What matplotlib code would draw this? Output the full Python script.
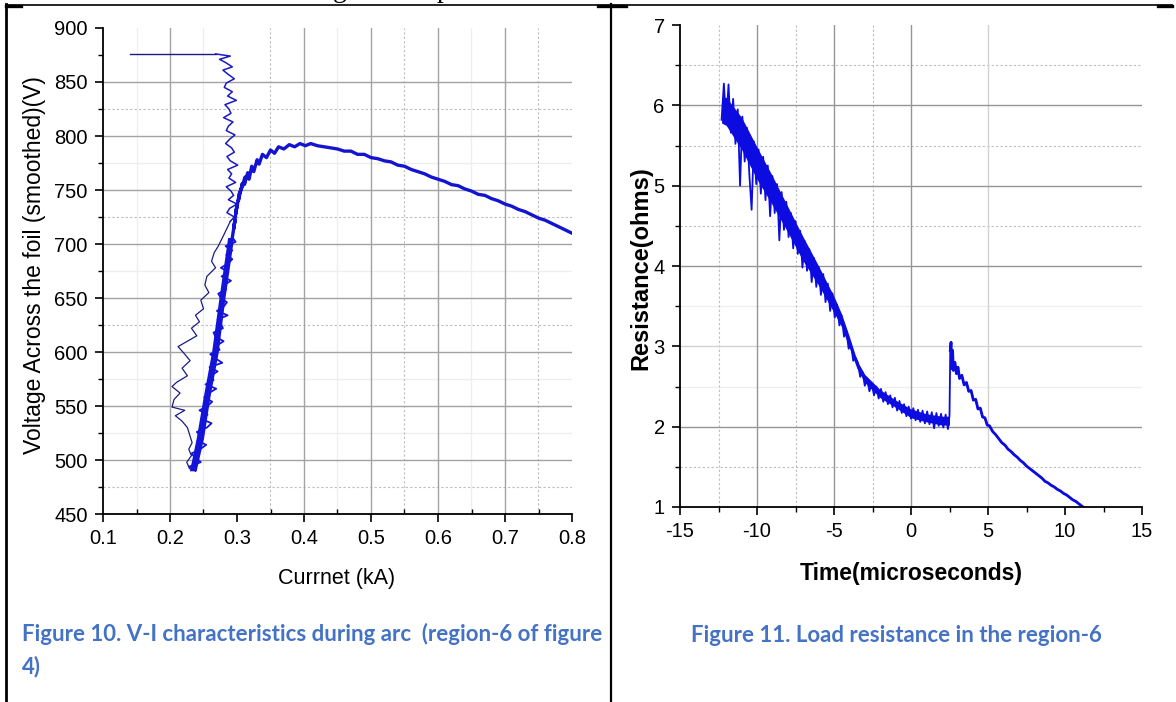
import matplotlib

matplotlib.use("Agg")
import matplotlib.pyplot as plt
from matplotlib.ticker import FormatStrFormatter, MultipleLocator

plt.rcParams["font.family"] = ["Liberation Sans", "DejaVu Sans"]
plt.rcParams["axes.unicode_minus"] = False

CAPTION_FONT = ["Lato", "DejaVu Sans"]
CAPTION_COLOR = "#4472C4"

# ---- Figure 10: V-I characteristics (current kA, voltage V) ----
flat_i = [0.140, 0.268]
flat_v = [876, 876]

down_i = [0.268, 0.290, 0.274, 0.283, 0.293, 0.279, 0.287, 0.296, 0.284, 0.281,
          0.293, 0.286, 0.299, 0.282, 0.288, 0.291, 0.280, 0.294, 0.287, 0.284,
          0.297, 0.289, 0.283, 0.292, 0.296, 0.285, 0.290, 0.301, 0.286, 0.292,
          0.288, 0.298, 0.284, 0.291, 0.295, 0.287, 0.300, 0.289, 0.285, 0.296,
          0.290]
down_v = [876, 874, 871, 868, 864, 861, 857, 853, 849, 845,
          841, 837, 833, 829, 825, 821, 817, 813, 809, 805,
          801, 797, 793, 789, 785, 781, 777, 773, 769, 765,
          761, 757, 753, 749, 745, 741, 737, 733, 729, 725,
          721]

return_i = [0.290, 0.280, 0.272, 0.266, 0.262, 0.268, 0.255, 0.252, 0.258, 0.246,
            0.250, 0.238, 0.244, 0.232, 0.240, 0.226, 0.212, 0.222, 0.230, 0.218,
            0.226, 0.210, 0.203, 0.215, 0.206, 0.203, 0.222, 0.208, 0.218, 0.226,
            0.230, 0.233, 0.228, 0.232, 0.225, 0.229, 0.238]
return_v = [721, 708, 698, 692, 684, 678, 670, 662, 655, 648,
            640, 634, 628, 622, 615, 610, 605, 598, 592, 585,
            578, 572, 568, 562, 556, 549, 546, 541, 536, 530,
            522, 516, 510, 504, 498, 492, 490]

up_i = [0.238, 0.229, 0.246, 0.238, 0.232, 0.245, 0.254, 0.241, 0.247, 0.240,
        0.255, 0.262, 0.247, 0.256, 0.244, 0.256, 0.263, 0.251, 0.258, 0.269,
        0.253, 0.265, 0.261, 0.271, 0.259, 0.278, 0.268, 0.260, 0.274, 0.270,
        0.280, 0.268, 0.265, 0.279, 0.276, 0.271, 0.286, 0.270, 0.280, 0.285,
        0.276, 0.272, 0.284, 0.281, 0.291, 0.277, 0.287, 0.276, 0.287, 0.293,
        0.284, 0.293, 0.283, 0.298, 0.293]
up_v = [490, 494, 498, 502, 506, 510, 514, 518, 522, 526,
        530, 534, 538, 542, 546, 550, 554, 558, 562, 566,
        570, 574, 578, 582, 586, 590, 594, 598, 602, 606,
        610, 614, 618, 622, 626, 630, 634, 638, 642, 646,
        650, 654, 658, 662, 666, 670, 674, 678, 682, 686,
        690, 694, 698, 702, 706]

# dense core of the rising branch
up_band_v = [490, 520, 560, 600, 650, 706]
up_band_lo = [0.229, 0.239, 0.250, 0.262, 0.273, 0.286]
up_band_hi = [0.239, 0.250, 0.260, 0.272, 0.282, 0.295]

arc_i = [0.293, 0.297, 0.295, 0.300, 0.298, 0.304, 0.302, 0.308, 0.306, 0.312,
         0.311, 0.316, 0.318, 0.322, 0.325, 0.330, 0.333, 0.338, 0.344, 0.350,
         0.356, 0.362, 0.370, 0.378, 0.386, 0.394, 0.402, 0.410, 0.420, 0.430,
         0.440, 0.450, 0.460, 0.470, 0.480, 0.490, 0.500, 0.510, 0.520, 0.530,
         0.540, 0.550, 0.560, 0.570, 0.580, 0.590, 0.600, 0.610, 0.620, 0.630,
         0.640, 0.650, 0.660, 0.670, 0.680, 0.690, 0.700, 0.710, 0.720, 0.730,
         0.740, 0.750, 0.760, 0.770, 0.780, 0.790, 0.800]
arc_v = [706, 722, 714, 736, 728, 748, 740, 756, 750, 762,
         755, 766, 760, 772, 767, 778, 774, 783, 780, 787,
         784, 790, 788, 792, 790, 793, 791, 793, 791, 790,
         789, 788, 786, 786, 783, 783, 780, 779, 777, 776,
         773, 772, 769, 767, 765, 762, 760, 758, 755, 754,
         751, 749, 746, 745, 742, 740, 737, 735, 732, 730,
         727, 724, 722, 719, 716, 713, 710]

# ---- Figure 11: load resistance (time us, resistance ohm) ----
time_us = [-12.30, -12.15, -12.00, -11.85, -11.70, -11.55, -11.40, -11.25, -11.10, -10.95,
           -10.80, -10.65, -10.50, -10.35, -10.20, -10.05, -9.90, -9.75, -9.60, -9.45,
           -9.30, -9.15, -9.00, -8.85, -8.70, -8.55, -8.40, -8.25, -8.10, -7.95,
           -7.80, -7.65, -7.50, -7.35, -7.20, -7.05, -6.90, -6.75, -6.60, -6.45,
           -6.30, -6.15, -6.00, -5.85, -5.70, -5.55, -5.40, -5.25, -5.10, -4.95,
           -4.80, -4.65, -4.50, -4.35, -4.20, -4.05, -3.90, -3.75, -3.60,
           -3.45, -3.30, -3.15, -3.00, -2.85, -2.70, -2.55, -2.40, -2.25, -2.10,
           -1.95, -1.80, -1.65, -1.50, -1.35, -1.20, -1.05, -0.90, -0.75, -0.60,
           -0.45, -0.30, -0.15, 0.00, 0.15, 0.30, 0.45, 0.60, 0.75, 0.90,
           1.05, 1.20, 1.35, 1.50, 1.65, 1.80, 1.95, 2.10, 2.25, 2.40, 2.50,
           2.55, 2.60, 2.65, 2.70, 2.75, 2.85, 2.95, 3.05, 3.15, 3.30,
           3.45, 3.60, 3.75, 3.90, 4.05, 4.20, 4.35, 4.50, 4.65, 4.80,
           4.95, 5.10, 5.30, 5.50, 5.70, 5.90, 6.10, 6.30, 6.50, 6.70,
           6.90, 7.10, 7.30, 7.50, 7.70, 7.90, 8.10, 8.30, 8.50, 8.70,
           8.90, 9.10, 9.30, 9.50, 9.70, 9.90, 10.10, 10.30, 10.50, 10.70,
           10.90, 11.10, 11.25]
resistance = [5.82, 6.27, 5.78, 6.26, 5.66, 6.08, 5.52, 5.95, 5.00, 5.86,
              5.30, 5.72, 5.15, 4.70, 5.55, 5.02, 5.45, 4.90, 5.36, 4.82,
              5.25, 4.62, 5.12, 4.66, 5.02, 4.32, 4.92, 4.45, 4.80, 4.36,
              4.66, 4.22, 4.56, 4.15, 4.44, 3.98, 4.31, 3.94, 4.21, 3.80,
              4.10, 3.74, 3.99, 3.64, 3.90, 3.55, 3.78, 3.44, 3.66, 3.36,
              3.52, 3.26, 3.38, 3.12, 3.20, 2.97, 3.03, 2.82, 2.86,
              2.80, 2.62, 2.68, 2.51, 2.60, 2.44, 2.53, 2.39, 2.50, 2.35,
              2.47, 2.31, 2.43, 2.28, 2.39, 2.24, 2.36, 2.20, 2.32, 2.17,
              2.28, 2.13, 2.25, 2.10, 2.23, 2.08, 2.21, 2.06, 2.20, 2.04,
              2.19, 2.03, 2.18, 1.98, 2.17, 2.01, 2.16, 1.99, 2.15, 1.97, 2.14,
              2.95, 3.05, 2.72, 2.95, 2.70, 2.80, 2.66, 2.74, 2.60, 2.64,
              2.52, 2.55, 2.44, 2.45, 2.33, 2.34, 2.22, 2.23, 2.12, 2.11,
              2.02, 2.01, 1.94, 1.90, 1.85, 1.80, 1.77, 1.72, 1.69, 1.65,
              1.62, 1.58, 1.55, 1.51, 1.48, 1.45, 1.42, 1.39, 1.36, 1.32,
              1.30, 1.27, 1.25, 1.22, 1.20, 1.17, 1.15, 1.12, 1.09, 1.07,
              1.04, 1.01, 0.99]
JUMP_INDEX = 100  # first sample after the jump at t = 2.55 us

# dense core of the noisy trace before the jump
band_t = [-12.3, -12.0, -11.0, -10.0, -9.0, -8.0, -7.0, -6.0, -5.0, -4.5,
          -4.0, -3.5, -3.0, -2.0, -1.0, 0.0, 1.0, 2.0, 2.5]
band_lo = [5.78, 5.75, 5.45, 5.08, 4.76, 4.42, 4.06, 3.76, 3.42, 3.24,
           2.98, 2.72, 2.55, 2.36, 2.24, 2.11, 2.06, 2.02, 2.02]
band_hi = [6.10, 6.10, 5.85, 5.48, 5.12, 4.74, 4.36, 4.00, 3.62, 3.40,
           3.12, 2.82, 2.65, 2.46, 2.33, 2.22, 2.16, 2.13, 2.13]

GRID_SOLID = "#a3a3a3"
GRID_LIGHT = "#d2d2d2"
GRID_DOT = "#bdbdbd"
GRID_FAINT = "#eeeeee"


def style_axes(ax):
    for side in ("top", "right"):
        ax.spines[side].set_visible(False)
    for side in ("left", "bottom"):
        ax.spines[side].set_linewidth(1.3)
    ax.tick_params(which="major", direction="out", length=6, width=1.2,
                   labelsize=14.5, pad=5, colors="black")
    ax.tick_params(which="minor", direction="out", length=3.5, width=1.0)


def grid_lines(ax, xs, ys, color, ls, lw):
    for x in xs:
        ax.axvline(x, color=color, linestyle=ls, linewidth=lw, zorder=0)
    for y in ys:
        ax.axhline(y, color=color, linestyle=ls, linewidth=lw, zorder=0)


fig = plt.figure(figsize=(11.76, 7.02), dpi=100)

# page layer: table borders, captions, clipped line of text above
page = fig.add_axes([0, 0, 1, 1])
page.set_xlim(0, 1176)
page.set_ylim(702, 0)
page.axis("off")
page.plot([6, 1172], [5, 5], color="black", linewidth=1.2)
page.plot([6, 6], [4, 702], color="black", linewidth=2.0)
page.plot([611, 611], [4, 702], color="black", linewidth=1.6)
page.plot([6, 21], [5.5, 5.5], color="black", linewidth=2.4)
page.plot([598, 626], [5.5, 5.5], color="black", linewidth=2.4)
page.plot([1158, 1172], [5.5, 5.5], color="black", linewidth=2.4)
page.text(333, -3, "g", family=["Liberation Serif"], fontsize=20, va="baseline")
page.text(437, -3, "p", family=["Liberation Serif"], fontsize=20, va="baseline")

page.text(22, 634, "Figure 10. V-I characteristics during arc  (region-6 of figure",
          family=CAPTION_FONT, fontweight="bold", fontsize=16,
          color=CAPTION_COLOR, ha="left", va="center")
page.text(22, 667, "4)", family=CAPTION_FONT, fontweight="bold", fontsize=16,
          color=CAPTION_COLOR, ha="left", va="center")
page.text(896, 635, "Figure 11. Load resistance in the region-6",
          family=CAPTION_FONT, fontweight="bold", fontsize=16,
          color=CAPTION_COLOR, ha="center", va="center")

# ---- left chart ----
ax1 = fig.add_axes([103 / 1176, 1 - 514 / 702, 469 / 1176, 486 / 702])
style_axes(ax1)
grid_lines(ax1, [0.15, 0.25, 0.45, 0.65], [525, 575, 675, 775], GRID_FAINT, "-", 0.9)
grid_lines(ax1, [0.35, 0.55, 0.75], [475, 625, 725, 825], GRID_DOT, (0, (2, 2)), 0.8)
grid_lines(ax1, [0.2, 0.4, 0.5, 0.6, 0.7], [500, 550, 600, 650, 700, 750, 800, 850],
           GRID_SOLID, "-", 1.0)

ax1.plot(flat_i, flat_v, color="#1c1c80", linewidth=1.0)
ax1.plot(down_i, down_v, color="#1a1ac0", linewidth=1.1)
ax1.plot(return_i, return_v, color="#1c1c80", linewidth=0.9)
ax1.fill_betweenx(up_band_v, up_band_lo, up_band_hi, color="#1414d8", linewidth=0)
ax1.plot(up_i, up_v, color="#1414d8", linewidth=1.3)
ax1.plot(arc_i, arc_v, color="#1414d0", linewidth=2.4)

ax1.set_xlim(0.1, 0.8)
ax1.set_ylim(450, 900)
ax1.xaxis.set_major_locator(MultipleLocator(0.1))
ax1.xaxis.set_minor_locator(MultipleLocator(0.05))
ax1.xaxis.set_major_formatter(FormatStrFormatter("%.1f"))
ax1.yaxis.set_major_locator(MultipleLocator(50))
ax1.yaxis.set_minor_locator(MultipleLocator(25))
ax1.tick_params(axis="x", which="minor", direction="in")

ax1.set_xlabel("Currnet (kA)", fontsize=15.5)
ax1.xaxis.label.set_va("center")
ax1.xaxis.set_label_coords(0.499, -0.132)
ax1.set_ylabel("Voltage Across the foil (smoothed)(V)", fontsize=16.5)
ax1.yaxis.label.set_va("center")
ax1.yaxis.set_label_coords(-0.145, 0.512)

# ---- right chart ----
ax2 = fig.add_axes([680 / 1176, 1 - 507 / 702, 462 / 1176, 482 / 702])
style_axes(ax2)
grid_lines(ax2, [], [2.5, 3.5], GRID_FAINT, "-", 0.9)
grid_lines(ax2, [-12.5, -7.5, -2.5], [1.5, 4.5, 5.5, 6.5], GRID_DOT, (0, (2, 2)), 0.8)
grid_lines(ax2, [5], [3], GRID_LIGHT, "-", 1.0)
grid_lines(ax2, [-10, -5, 0], [2, 4, 5, 6], "#959595", "-", 1.0)

ax2.fill_between(band_t, band_lo, band_hi, color="#0c0ce0", linewidth=0)
ax2.plot(time_us, resistance, color="#0c0ce0", linewidth=1.3)
ax2.plot(time_us[JUMP_INDEX:], resistance[JUMP_INDEX:], color="#0c0ce0", linewidth=2.0)

ax2.set_xlim(-15, 15)
ax2.set_ylim(1, 7)
ax2.xaxis.set_major_locator(MultipleLocator(5))
ax2.xaxis.set_minor_locator(MultipleLocator(2.5))
ax2.yaxis.set_major_locator(MultipleLocator(1))
ax2.yaxis.set_minor_locator(MultipleLocator(0.5))

ax2.set_xlabel("Time(microseconds)", fontsize=16.5, fontweight="bold")
ax2.xaxis.label.set_va("center")
ax2.xaxis.set_label_coords(0.5, -0.137)
ax2.set_ylabel("Resistance(ohms)", fontsize=17, fontweight="bold")
ax2.yaxis.label.set_va("center")
ax2.yaxis.set_label_coords(-0.084, 0.496)

fig.savefig("out.png", dpi=100)
plt.close(fig)
